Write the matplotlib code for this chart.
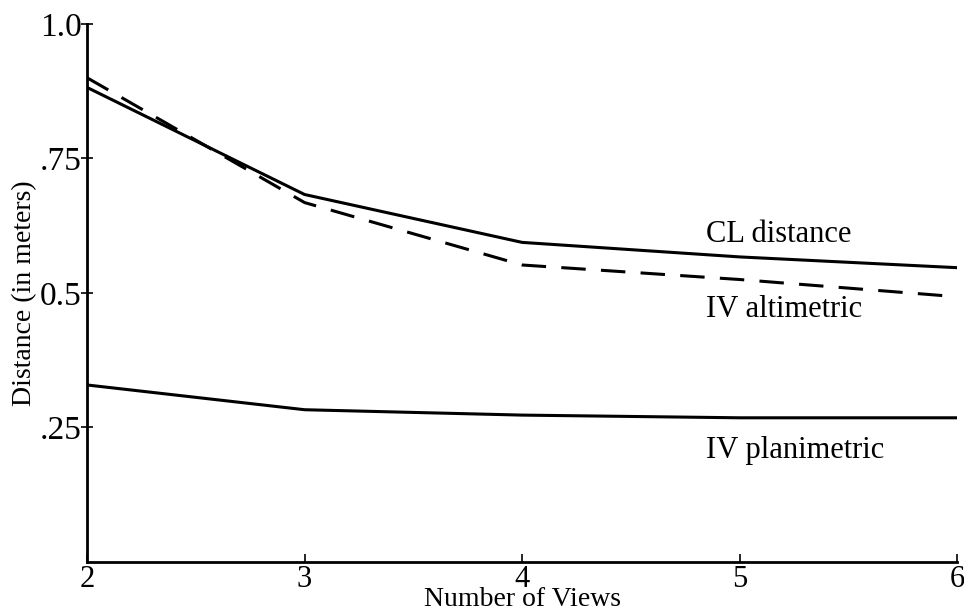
import matplotlib
matplotlib.use("Agg")
import matplotlib.pyplot as plt

views = [2, 3, 4, 5, 6]
cl_distance = [0.882, 0.683, 0.594, 0.567, 0.547]
iv_altimetric = [0.900, 0.668, 0.552, 0.525, 0.493]
iv_planimetric = [0.329, 0.283, 0.273, 0.268, 0.268]

yticks = [0.25, 0.5, 0.75, 1.0]
ytick_labels = [".25", "0.5", ".75", "1.0"]

plt.rcParams['font.family'] = ['Liberation Serif', 'DejaVu Serif']

fig = plt.figure(figsize=(9.64, 6.14), dpi=100)
ax = fig.add_axes([0.0903, 0.0847, 0.9027, 0.8763])

ax.plot(views, cl_distance, color='black', lw=2.2)
ax.plot(views, iv_altimetric, color='black', lw=2.2, dashes=(8, 5))
ax.plot(views, iv_planimetric, color='black', lw=2.2)

ax.text(4.845, 0.595, "CL distance", fontsize=22, va='baseline', ha='left')
ax.text(4.845, 0.456, "IV altimetric", fontsize=22, va='baseline', ha='left')
ax.text(4.845, 0.193, "IV planimetric", fontsize=22, va='baseline', ha='left')

ax.set_xlim(2, 6)
ax.set_ylim(0, 1.0)
ax.set_xticks(views)
ax.set_yticks(yticks)
ax.set_yticklabels(ytick_labels)
ax.tick_params(axis='x', direction='in', length=6, width=1.2, labelsize=22, pad=2)
ax.tick_params(axis='y', direction='inout', length=8, width=1.2, labelsize=24, pad=0)

for s in ['top', 'right']:
    ax.spines[s].set_visible(False)
for s in ['left', 'bottom']:
    ax.spines[s].set_linewidth(2.0)

ax.set_xlabel("Number of Views", fontsize=20, labelpad=-5)
ax.set_ylabel("Distance (in meters)", fontsize=20, labelpad=2)

fig.savefig("out.png", dpi=100)
